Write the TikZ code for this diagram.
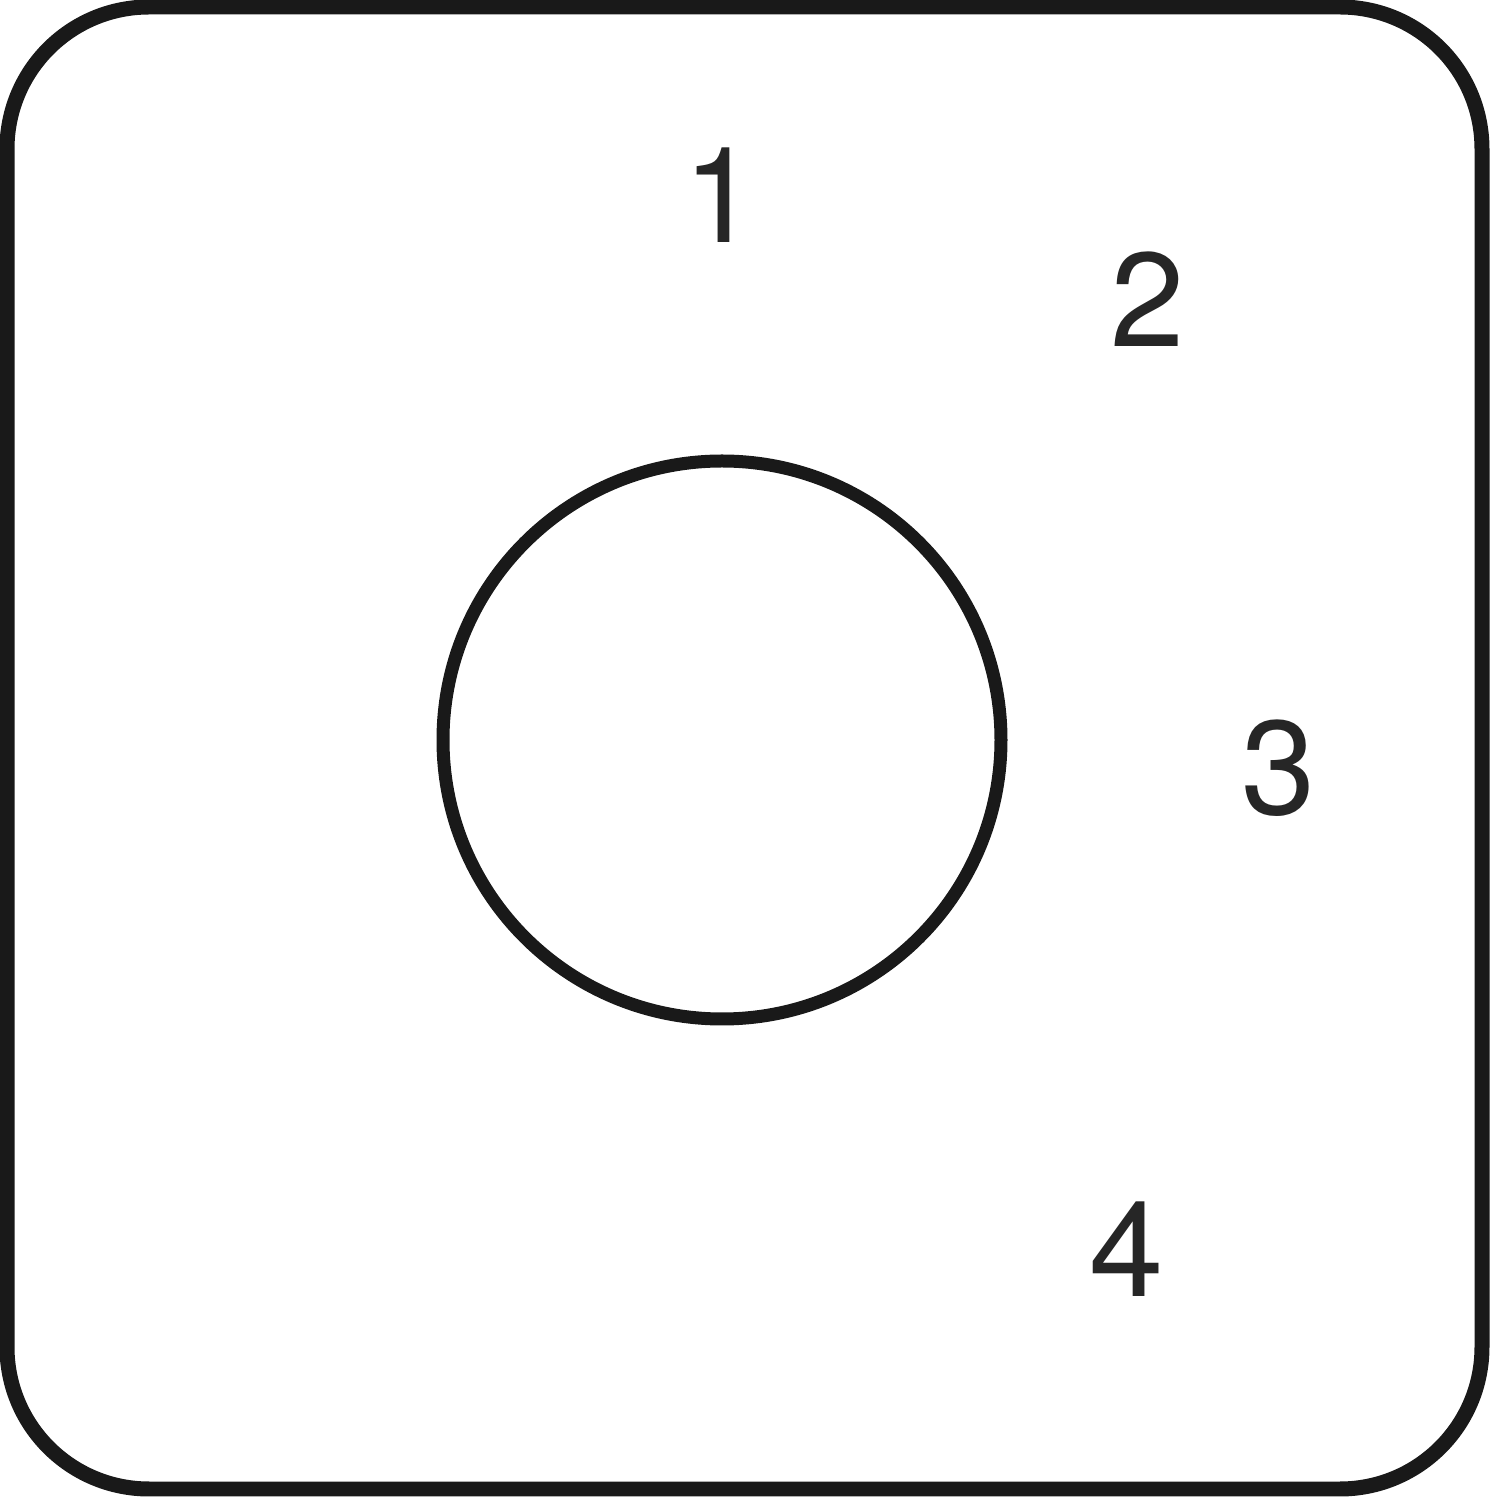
\documentclass[tikz,border=0pt]{standalone}
\usepackage{fontspec}
\setmainfont{TeX Gyre Heros}
\begin{document}
\begin{tikzpicture}[
  frame/.style={draw=black!90, line width=0.15cm, rounded corners=1.42cm, inner sep=0pt},
  hole/.style={draw=black!90, line width=0.13cm, circle, inner sep=0pt, minimum size=5.58cm},
  num/.style={anchor=base, inner sep=0pt, text=black!85, font=\fontsize{38}{38}\selectfont}
]
\useasboundingbox (0,0) rectangle (15,15);
\node[frame, minimum width=14.75cm, minimum height=14.82cm] (frame) at (7.445,7.52) {};
\node[hole] (hole) at (7.22,7.60) {};
\node[num] (n1) at (7.21,12.57) {1};
\node[num] (n2) at (11.48,11.53) {2};
\node[num] (n3) at (12.79,6.85) {3};
\node[num] (n4) at (11.27,2.03) {4};
\end{tikzpicture}
\end{document}
